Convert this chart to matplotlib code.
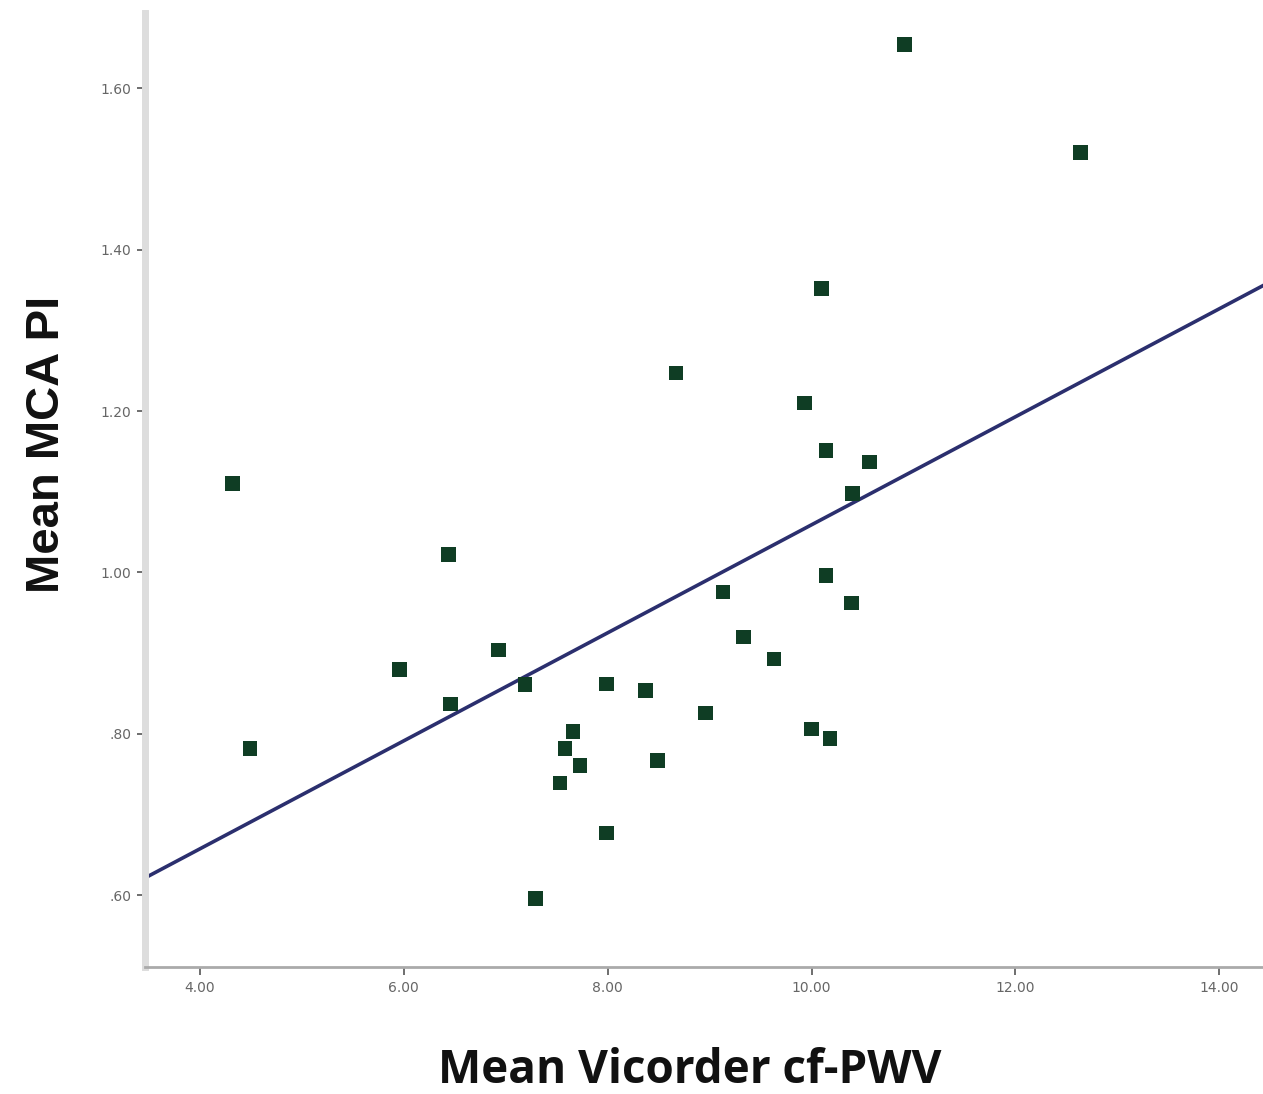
import numpy as np
import matplotlib
matplotlib.use("Agg")
import matplotlib.pyplot as plt

# values
pwv = [4.32, 4.49, 5.96, 6.44, 6.46, 6.93, 7.19, 7.29, 7.53, 7.58, 7.66,
       7.73, 7.99, 7.99, 8.37, 8.49, 8.67, 8.96, 9.13, 9.33, 9.63, 9.93,
       10.00, 10.10, 10.14, 10.14, 10.18, 10.39, 10.40, 10.57, 10.91, 12.64]
mca_pi = [1.110, 0.782, 0.880, 1.022, 0.837, 0.904, 0.861, 0.596, 0.739, 0.782, 0.803,
          0.761, 0.862, 0.677, 0.854, 0.767, 1.247, 0.826, 0.976, 0.920, 0.893, 1.210,
          0.806, 1.352, 1.151, 0.996, 0.794, 0.962, 1.098, 1.137, 1.654, 1.520]

# fit line (intercept, slope) as drawn in the reference
fit_coef = [0.390, 0.0669]

x_ticks = [4, 6, 8, 10, 12, 14]
x_tick_labels = ["4.00", "6.00", "8.00", "10.00", "12.00", "14.00"]
y_ticks = [0.6, 0.8, 1.0, 1.2, 1.4, 1.6]
y_tick_labels = [".60", ".80", "1.00", "1.20", "1.40", "1.60"]

fig = plt.figure(figsize=(12.63, 10.94), dpi=100)
ax = fig.add_axes([0.1148, 0.116, 0.8852, 0.872])

xlim = (3.46, 14.43)
ylim = (0.511, 1.693)

xs = np.array(xlim)
ax.plot(xs, fit_coef[0] + fit_coef[1] * xs, color="#2b2f6e", lw=2.6, zorder=2)
ax.scatter(pwv, mca_pi, marker="s", s=110, color="#0f3d24", edgecolors="none", zorder=3)

ax.set_xlim(*xlim)
ax.set_ylim(*ylim)

ax.set_xticks(x_ticks)
ax.set_xticklabels(x_tick_labels)
ax.set_yticks(y_ticks)
ax.set_yticklabels(y_tick_labels)
ax.tick_params(axis="both", direction="out", length=6, width=1.2, color="#555555",
               labelsize=10, labelcolor="#666666", pad=4)

for s in ("top", "right"):
    ax.spines[s].set_visible(False)
ax.spines["left"].set_color("#dddddd")
ax.spines["left"].set_linewidth(5)
ax.spines["bottom"].set_color("#aaaaaa")
ax.spines["bottom"].set_linewidth(2)

fig.text(0.546, 0.010, "Mean Vicorder cf-PWV", fontsize=33, fontweight="bold",
         family="Open Sans", color="#111111", ha="center", va="baseline")
fig.text(0.037, 0.594, "Mean MCA PI", fontsize=34, fontweight="bold",
         family="Liberation Sans", color="#111111", rotation=90, ha="center", va="center")

fig.savefig("out.png", dpi=100)
